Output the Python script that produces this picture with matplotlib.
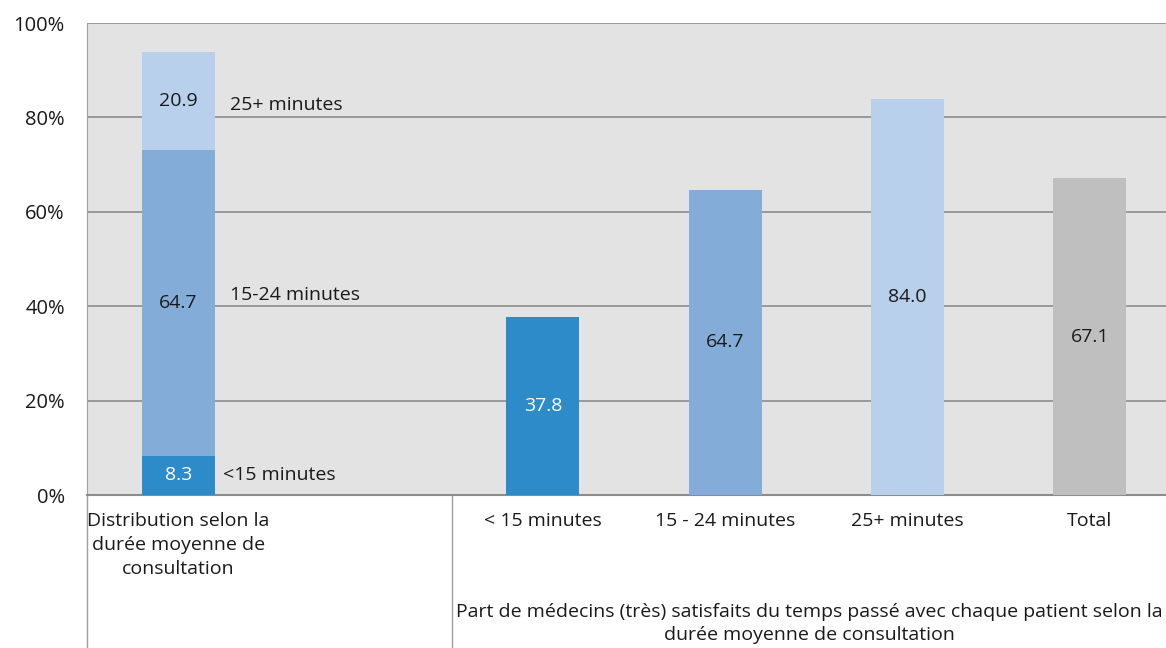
import matplotlib.pyplot as plt
import numpy as np

plt.rcParams["font.family"] = ["Open Sans", "DejaVu Sans"]

# stacked distribution bar (position 0)
dist_labels = ["<15 minutes", "15-24 minutes", "25+ minutes"]
dist_values = [8.3, 64.7, 20.9]
dist_colors = ["#2e8bc9", "#83add8", "#b8d0eb"]
dist_text_colors = ["white", "#1a1a1a", "#1a1a1a"]

# satisfaction bars (positions 2..5)
sat_labels = ["< 15 minutes", "15 - 24 minutes", "25+ minutes", "Total"]
sat_values = [37.8, 64.7, 84.0, 67.1]
sat_colors = ["#2e8bc9", "#83add8", "#b8d0eb", "#bfbfbf"]
sat_text_colors = ["white", "#1a1a1a", "#1a1a1a", "#1a1a1a"]

group_left = "Distribution selon la\ndurée moyenne de\nconsultation"
group_right = "Part de médecins (très) satisfaits du temps passé avec chaque patient selon la\ndurée moyenne de consultation"

grid_color = "#8c8c8c"
width = 0.4
fs = 14

# side label nudges (x offset, y offset) for the stacked bar annotations
side_x = [0.247, 0.282, 0.285]
side_dy = [0, 1.7, -0.85]

fig = plt.figure(figsize=(11.66, 6.48), dpi=100)
ax = fig.add_axes([0.0746, 0.2361, 1094 / 1166, 0.7284])
ax.set_facecolor("#e3e3e3")

# stacked bar
bottom = 0
for i, (val, lab, col, tcol) in enumerate(zip(dist_values, dist_labels, dist_colors, dist_text_colors)):
    ax.bar(0, val, width, bottom=bottom, color=col, zorder=3)
    ax.text(0, bottom + val / 2, f"{val:.1f}", ha="center", va="center",
            fontsize=fs, color=tcol, zorder=4)
    ax.text(side_x[i], bottom + val / 2 + side_dy[i], lab, ha="left", va="center",
            fontsize=fs, color="#1a1a1a", zorder=4)
    bottom += val

# right-hand bars
xs = np.arange(2, 2 + len(sat_values))
ax.bar(xs, sat_values, width, color=sat_colors, zorder=3)
for x, val, tcol in zip(xs, sat_values, sat_text_colors):
    ax.text(x, val / 2, f"{val:.1f}", ha="center", va="center",
            fontsize=fs, color=tcol, zorder=4)

ax.set_xlim(-0.5, 5.5)
ax.set_ylim(0, 100)
ax.set_yticks(np.arange(0, 101, 20))
ax.set_yticklabels([f"{v}%" for v in range(0, 101, 20)], fontsize=14.5, color="#1a1a1a")
ax.tick_params(axis="y", length=0, pad=16)
ax.set_xticks([])
ax.yaxis.grid(True, color=grid_color, linewidth=1.2, zorder=1)
ax.set_axisbelow(True)

for side in ["top", "right"]:
    ax.spines[side].set_visible(False)
ax.spines["left"].set_color("#a0a0a0")
ax.spines["bottom"].set_color(grid_color)
ax.spines["bottom"].set_linewidth(1.5)

# category labels below the axis
trans = ax.get_xaxis_transform()
ax.text(0, -0.035, group_left, transform=trans, ha="center", va="top",
        fontsize=fs, color="#1a1a1a", linespacing=1.45)
for x, lab in zip(xs, sat_labels):
    ax.text(x, -0.035, lab, transform=trans, ha="center", va="top",
            fontsize=fs, color="#1a1a1a")
ax.text(3.46, -0.228, group_right, transform=trans, ha="center", va="top",
        fontsize=fs, color="#1a1a1a", linespacing=1.4)

# separator lines of the category table
for x in [-0.5, 1.5]:
    ax.plot([x, x], [0, -0.33], transform=trans, color="#a0a0a0",
            linewidth=1, clip_on=False)

fig.savefig("out.png", dpi=100)
